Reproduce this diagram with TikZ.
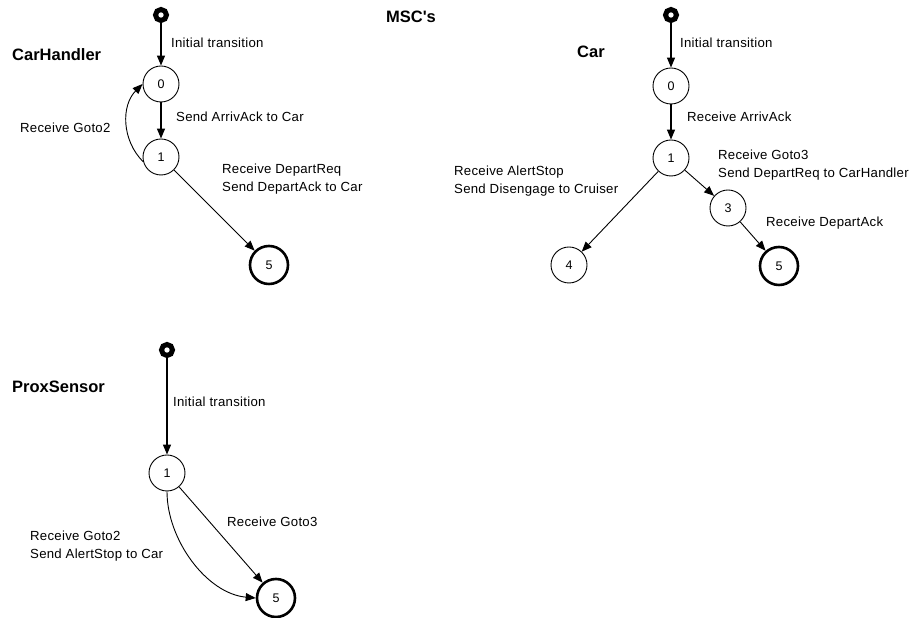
\documentclass[tikz,border=0pt]{standalone}
\usepackage{fontspec}
\setmainfont{Liberation Sans}
\usetikzlibrary{arrows.meta}
\begin{document}
\begin{tikzpicture}[x=1pt,y=1pt,
  state/.style={circle,draw,line width=0.9pt,minimum size=36pt,inner sep=0pt,font=\fontsize{12.5}{14}\selectfont},
  final/.style={state,line width=2.6pt,minimum size=38pt},
  initdot/.style={circle,draw,line width=5pt,minimum size=11pt,inner sep=0pt},
  lbl/.style={anchor=west,align=left,inner sep=0pt,font=\fontsize{13.2}{18}\selectfont\addfontfeatures{LetterSpace=2}},
  title/.style={anchor=west,inner sep=0pt,font=\fontsize{16.5}{18}\selectfont\bfseries},
  tr/.style={-{Triangle[length=10pt,width=8pt]},line width=0.9pt},
  trv/.style={tr,line width=1.3pt}]
\useasboundingbox (0,0) rectangle (922,618);

% heading
\node[anchor=center,inner sep=0pt,font=\fontsize{16.5}{18}\selectfont\bfseries] (msc) at (411,601) {MSC\textquotesingle s};

% ---------------- CarHandler ----------------
\node[title] (thandler) at (12,563) {CarHandler};
\node[initdot] (hi) at (161,603) {};
\node[state] (h0) at (161,534) {0};
\node[state] (h1) at (161,461) {1};
\node[final] (h5) at (269,353) {5};
\draw[trv] (hi) -- (h0);
\draw[trv] (h0) -- (h1);
\draw[tr] (h1) -- (h5);
\draw[tr] (h1.195) to[out=135,in=-135] (h0.180);
\node[lbl] (lh1) at (171,575) {Initial transition};
\node[lbl] (lh2) at (176,501) {Send ArrivAck to Car};
\node[lbl] (lh3) at (20,490) {Receive Goto2};
\node[lbl] (lh4) at (222,439) {Receive DepartReq\\Send DepartAck to Car};

% ---------------- Car ----------------
\node[title] (tcar) at (577,566) {Car};
\node[initdot] (ci) at (671,603) {};
\node[state] (c0) at (671,532) {0};
\node[state] (c1) at (671,460) {1};
\node[state] (c3) at (728,410) {3};
\node[state] (c4) at (569,353) {4};
\node[final] (c5) at (779,352) {5};
\draw[trv] (ci) -- (c0);
\draw[trv] (c0) -- (c1);
\draw[tr] (c1) -- (c3);
\draw[tr] (c3) -- (c5);
\draw[tr] (c1) -- (c4);
\node[lbl] (lc1) at (680,575) {Initial transition};
\node[lbl] (lc2) at (687,501) {Receive ArrivAck};
\node[lbl] (lc3) at (718,452.5) {Receive Goto3\\Send DepartReq to CarHandler};
\node[lbl] (lc4) at (766,395) {Receive DepartAck};
\node[lbl] (lc5) at (454,437) {Receive AlertStop\\Send Disengage to Cruiser};

% ---------------- ProxSensor ----------------
\node[title] (tprox) at (12,231) {ProxSensor};
\node[initdot] (pi) at (167,268) {};
\node[state] (p1) at (167,145) {1};
\node[final] (p5) at (276,20) {5};
\draw[trv] (pi) -- (p1);
\draw[tr] (p1) -- (p5);
\draw[tr] (p1.270) to[out=-90,in=175,looseness=0.9] (p5.180);
\node[lbl] (lp1) at (173,216) {Initial transition};
\node[lbl] (lp2) at (227,96) {Receive Goto3};
\node[lbl] (lp3) at (30,71.5) {Receive Goto2\\Send AlertStop to Car};
\end{tikzpicture}
\end{document}
